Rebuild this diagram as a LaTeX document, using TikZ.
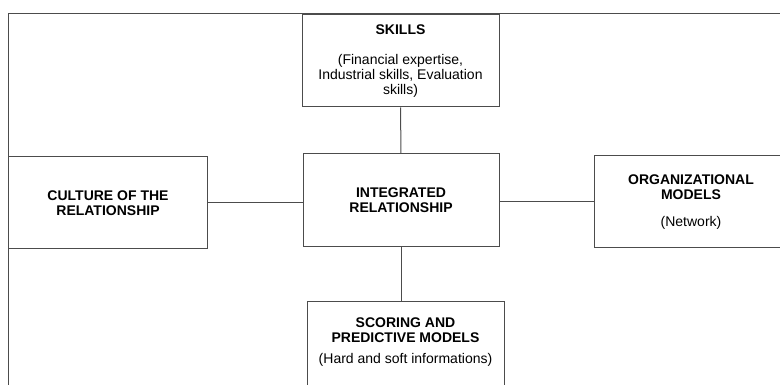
\documentclass[tikz,border=0pt]{standalone}
\usepackage{fontspec}
\setmainfont{Liberation Sans}
\begin{document}
\begin{tikzpicture}[x=1pt,y=-1pt,
  box/.style={draw=black!70,line width=1pt,rectangle,align=center,inner sep=0pt,
    font=\fontsize{14}{15}\selectfont,text=black},
  link/.style={draw=black!70,line width=1pt}]
\useasboundingbox (0,0) rectangle (780,385);
\clip (0,0) rectangle (780,385);
\draw[link] (8.5,400) -- (8.5,14) -- (800,14);
\node[box,minimum width=197,minimum height=92] (skills) at (400.5,61)
  {\textbf{SKILLS}\\[15pt](Financial expertise,\\Industrial skills, Evaluation\\skills)};
\node[box,minimum width=199,minimum height=92] (culture) at (108,203)
  {\textbf{CULTURE OF THE}\\\textbf{RELATIONSHIP}};
\node[box,minimum width=196,minimum height=93] (integ) at (401,200.5)
  {\textbf{INTEGRATED}\\\textbf{RELATIONSHIP}};
\node[box,minimum width=194,minimum height=92] (org) at (691,202)
  {\textbf{ORGANIZATIONAL}\\\textbf{MODELS}\\[12pt](Network)};
\node[box,minimum width=197,minimum height=92] (scoring) at (405.5,347)
  {\textbf{SCORING AND}\\\textbf{PREDICTIVE MODELS}\\[6pt](Hard and soft informations)\\[-3pt]\mbox{}};
\draw[link] (skills.south) -- (integ.north);
\draw[link] (integ.south) -- (integ.south |- scoring.north);
\draw[link] (culture.east) -- (culture.east -| integ.west);
\draw[link] (integ.east |- org.west) -- (org.west);
\end{tikzpicture}
\end{document}
